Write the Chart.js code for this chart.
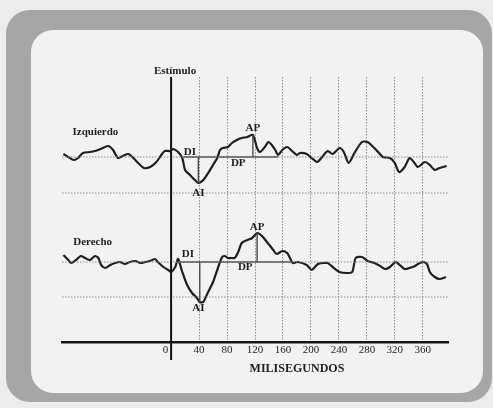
<!DOCTYPE html>
<html><head><meta charset="utf-8">
<script src="https://cdn.jsdelivr.net/npm/chart.js@4.4.0/dist/chart.umd.min.js"></script>
<style>html,body{margin:0;padding:0;background:#ececec;}#wrap{width:493px;height:408px;position:relative;}</style>
</head><body><div id="wrap"><canvas id="c"></canvas></div>
<script>
// ---- data (time in ms, amplitude in arbitrary units relative to each trace's baseline)
const timeTicks = [0, 40, 80, 120, 160, 200, 240, 280, 320, 360];
const izqT = [-154,-147,-139,-133,-126,-116,-109,-101,-90,-83,-76,-69,-61,-54,-47,-39,-30,-21,-14,-9,-1,3,10,16,20,27,34,39,46,53,60,66,70,74,81,87,94,101,109,117,123,127,134,139,144,149,153,159,166,173,180,184,194,201,209,216,224,231,241,247,254,263,273,281,289,296,303,313,320,326,334,341,347,353,363,370,377,384,394];
const izqV = [3,0,-3,-1,4,5,6,8,11,7,-1,1,3,-1,-6,-11,-10,-5,2,6,6,8,5,-1,-13,-18,-23,-26,-23,-16,-8,-1,7,9,10,14,17,19,20,22,9,5,10,15,12,7,2,7,10,6,2,4,3,-1,-5,0,6,3,9,5,-6,5,15,15,10,5,0,-1,-6,-15,-10,-1,-5,-10,-5,-8,-13,-11,-9];
const derT = [-154,-147,-143,-136,-129,-123,-116,-109,-104,-100,-94,-87,-80,-73,-66,-59,-51,-44,-37,-30,-23,-19,-11,-4,0,6,10,16,23,30,37,41,46,53,60,67,73,77,81,87,91,96,101,109,116,123,130,137,144,151,159,166,170,174,181,194,201,210,217,224,231,241,251,259,264,273,281,291,299,306,313,321,327,334,341,349,353,360,366,370,377,384,393];
const derV = [7,2,-1,2,6,4,2,6,4,-3,-6,-3,-1,0,-2,0,1,-1,0,1,3,0,-5,-8,-10,-5,3,-10,-23,-31,-36,-40,-40,-30,-20,-6,5,6,4,4,4,10,19,22,24,29,26,20,14,8,11,9,4,-1,0,-3,-8,-2,-1,-1,-5,-10,-11,-10,4,5,1,-1,-4,-7,-5,0,-3,-7,-6,-4,-2,0,-2,-10,-15,-17,-15];
// latency / amplitude markers
const izqDIDP = [14, 153];   // start and end of deflection (ms)
const izqAI = [39, -26];     // ms, amplitude
const izqAP = [117, 22];
const derDIDP = [9, 174];
const derAI = [41, -40];
const derAP = [123, 29];
// dotted reference levels
const izqRefs = [0, -36];
const derRefs = [0, -35];
const xRange = [-156, 396];

const pts = (t, v) => t.map((x, i) => ({x, y: v[i]}));
const seg = (a, b) => [a, b];
const ink = '#1f1f1f';
const ds = [];
izqRefs.forEach(r => ds.push({data: seg({x:xRange[0],y:r},{x:xRange[1],y:r}), yAxisID:'yI', borderColor:'#8a8a8a', borderWidth:1, borderDash:[1.5,1.5], pointRadius:0}));
derRefs.forEach(r => ds.push({data: seg({x:xRange[0],y:r},{x:xRange[1],y:r}), yAxisID:'yD', borderColor:'#8a8a8a', borderWidth:1, borderDash:[1.5,1.5], pointRadius:0}));
const markLine = (data, axis) => ({data, yAxisID:axis, borderColor:'#4a4a4a', borderWidth:1.4, pointRadius:0, tension:0});
ds.push(markLine(seg({x:izqDIDP[0],y:0},{x:izqDIDP[1],y:0}),'yI'));
ds.push(markLine(seg({x:izqAI[0],y:0},{x:izqAI[0],y:izqAI[1]}),'yI'));
ds.push(markLine(seg({x:izqAP[0],y:0},{x:izqAP[0],y:izqAP[1]}),'yI'));
ds.push(markLine(seg({x:derDIDP[0],y:0},{x:derDIDP[1],y:0}),'yD'));
ds.push(markLine(seg({x:derAI[0],y:0},{x:derAI[0],y:derAI[1]}),'yD'));
ds.push(markLine(seg({x:derAP[0],y:0},{x:derAP[0],y:derAP[1]}),'yD'));
ds.push({label:'Izquierdo', data: pts(izqT, izqV), yAxisID:'yI', borderColor:ink, borderWidth:2.2, pointRadius:0, tension:0.25});
ds.push({label:'Derecho', data: pts(derT, derV), yAxisID:'yD', borderColor:ink, borderWidth:2.2, pointRadius:0, tension:0.25});

function rr(ctx, x, y, w, h, r){ctx.beginPath();ctx.moveTo(x+r,y);ctx.arcTo(x+w,y,x+w,y+h,r);ctx.arcTo(x+w,y+h,x,y+h,r);ctx.arcTo(x,y+h,x,y,r);ctx.arcTo(x,y,x+w,y,r);ctx.closePath();}
const frame = {id:'frame', beforeDraw(chart){
  const c = chart.ctx; c.save();
  c.fillStyle='#ececec'; c.fillRect(0,0,chart.width,chart.height);
  rr(c,6,10,486,392,24); c.fillStyle='#a6a6a6'; c.fill();
  rr(c,31,30,452,363,22); c.fillStyle='#f2f2f2'; c.fill();
  c.restore();
}};
const serif = '"Liberation Serif", "DejaVu Serif", serif';
const texts = [
  {s:'Izquierdo', t:-141, v:25, ax:'yI', align:'left'},
  {s:'Derecho', t:-140, v:20, ax:'yD', align:'left'},
  {s:'DI', t:27, v:5, ax:'yI'}, {s:'AI', t:39, v:-36, ax:'yI'}, {s:'DP', t:96, v:-6, ax:'yI'}, {s:'AP', t:117, v:29, ax:'yI'},
  {s:'DI', t:24, v:8, ax:'yD'}, {s:'AI', t:39, v:-46, ax:'yD'}, {s:'DP', t:106, v:-5, ax:'yD'}, {s:'AP', t:123, v:35, ax:'yD'}
];
const annot = {id:'annot', afterDraw(chart){
  const c = chart.ctx, x = chart.scales.x, a = chart.chartArea; c.save();
  // stimulus line
  const x0 = x.getPixelForValue(0);
  c.strokeStyle='#111'; c.lineWidth=2; c.beginPath(); c.moveTo(x0, a.top); c.lineTo(x0, a.bottom+18); c.stroke();
  c.fillStyle='#1e1e1e'; c.font='bold 11px '+serif; c.textBaseline='middle';
  c.textAlign='center'; c.fillText('Estímulo', x0+4, a.top-6);
  texts.forEach(o => { c.textAlign=o.align||'center'; c.fillText(o.s, x.getPixelForValue(o.t), chart.scales[o.ax].getPixelForValue(o.v)); });
  c.font='bold 12px '+serif; c.textAlign='center';
  c.fillText('MILISEGUNDOS', x.getPixelForValue(180), a.bottom+27);
  c.restore();
}};
new Chart(document.getElementById('c'), {
  type:'line',
  data:{datasets:ds},
  options:{
    responsive:true, maintainAspectRatio:false, animation:false,
    layout:{padding:{left:62, right:45, top:77, bottom:0}},
    plugins:{legend:{display:false}, tooltip:{enabled:false}},
    scales:{
      x:{type:'linear', min:xRange[0], max:xRange[1],
        afterBuildTicks(s){ s.ticks = timeTicks.map(v => ({value:v})); },
        afterFit(s){ s.height = 66; },
        grid:{drawTicks:false, lineWidth:1, color:(ctx)=> (ctx.tick && ctx.tick.value===0) ? 'rgba(0,0,0,0)' : '#8c8c8c'},
        border:{display:true, color:'#151515', width:2.5, dash:[1.5,1.5]},
        ticks:{padding:2, color:'#222', autoSkip:false, maxRotation:0, font:{family:serif, size:11},
          callback:(v)=> v===0 ? '0\u2003' : String(v)}
      },
      yI:{type:'linear', display:false, min:-185, max:80},
      yD:{type:'linear', display:false, min:-80, max:185}
    }
  },
  plugins:[frame, annot]
});
</script></body></html>
